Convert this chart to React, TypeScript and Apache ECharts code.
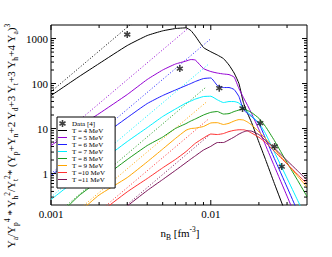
import React, { useEffect, useRef } from 'react';
import * as echarts from 'echarts';

// baryon density grid [fm^-3]
const density = [0.001, 0.0015, 0.002, 0.003, 0.004, 0.005, 0.006, 0.007, 0.0075, 0.008, 0.009, 0.01, 0.011, 0.012, 0.013, 0.014, 0.015, 0.016, 0.017, 0.018, 0.02, 0.022, 0.025, 0.03, 0.035, 0.04];

const temperatures = ['T = 4 MeV', 'T = 5 MeV', 'T = 6 MeV', 'T = 7 MeV', 'T = 8 MeV', 'T = 9 MeV', 'T =10 MeV', 'T =11 MeV'];
const colors = ['#000000', '#9400d3', '#1f1fff', '#00f0ff', '#1a9a1a', '#ffa500', '#ff3030', '#7a1458'];

const ratioT4 = [54, 143, 278, 699, 1166, 1483, 1668, 1729, 1506, 1136, 631, 509, 430, 359, 258, 171, 100, 37.8, 21.5, 13.6, 4.99, 2.05, 0.6, 0.111, 0.032, null];
const ratioT5 = [4.19, 11.1, 21.5, 57, 123, 200, 271, 316, 341, 333, 215, 185, 171, 163, 158, 139, 77.4, 48.9, 32.5, 21.5, 9.5, 4.28, 1.45, 0.315, 0.086, 0.028];
const ratioT6 = [0.9, 2.78, 6.15, 17.5, 35.9, 54.1, 71.7, 90.3, 100, 111, 129, 133, 90.3, 81.5, 81.5, 73.6, 51.4, 26.4, 21.5, 18.5, 12.9, 6.0, 2.15, 0.5, 0.143, 0.049];
const ratioT7 = [0.264, 0.815, 1.75, 5.14, 10.5, 18.5, 27.1, 36.9, 40.8, 45.2, 51.4, 52.2, 43.4, 37.8, 39.8, 39.8, 36.9, 28.6, 23.3, 19.0, 13.3, 7.74, 3.0, 0.787, 0.251, 0.095];
const ratioT8 = [0.08, 0.324, 0.699, 2.05, 4.19, 6.47, 10, 12.9, 14.7, 16.3, 20, 22.9, 23.9, 21.0, 21.5, 23.9, 25.8, 27.5, 25.1, 22.7, 16.9, 11.1, 5.41, 1.75, 0.699, 0.308];
const ratioT9 = [0.05, 0.14, 0.333, 0.815, 1.82, 3.5, 6.0, 9.17, 10, 10.2, 11.1, 13.3, 13.5, 12.3, 13.1, 14.7, 15.8, 15.5, 13.9, 12.0, 8.45, 6.0, 3.52, 1.65, 0.871, 0.501];
const ratioT10 = [null, 0.05, 0.13, 0.392, 0.774, 1.34, 2.05, 3.08, 3.84, 4.69, 6.15, 7.55, 7.36, 7.74, 8.58, 9.12, 9.4, 9.4, 8.85, 7.94, 6.41, 4.94, 3.13, 1.64, 0.95, 0.59];
const ratioT11 = [null, null, null, 0.19, 0.419, 0.736, 1.17, 1.75, 2.1, 2.47, 3.33, 4.02, 4.89, 4.89, 5.61, 6.47, 7.55, 8.4, 8.93, 8.75, 7.36, 5.41, 3.67, 1.94, 1.14, 0.717];
const ratioSeries = [ratioT4, ratioT5, ratioT6, ratioT7, ratioT8, ratioT9, ratioT10, ratioT11];

// dotted low-density limits: start and end points
const limitStart = [[0.001, 66], [0.001, 4.5], [0.001, 0.99], [0.001, 0.3], [0.001, 0.1], [0.0015, 0.16], [0.002, 0.144], [0.003, 0.205]];
const limitEnd = [[0.0033, 2372], [0.0071, 1611], [0.0099, 960], [0.0096, 263], [0.0094, 85], [0.0094, 39], [0.0096, 15.9], [0.0099, 7.4]];

// experimental data [4]
const dataDensity = [0.003, 0.0064, 0.0113, 0.0158, 0.0204, 0.0251, 0.0278];
const dataRatio = [1230, 215, 79, 28, 13.2, 4.0, 1.43];

const xDecades = [0.001, 0.01];
const xTickLabels = ['0.001', '0.01'];
const yDecades = [1, 10, 100, 1000];
const yTickLabels = ['1', '10', '100', '1000'];
const xMinor = [0.002, 0.003, 0.004, 0.005, 0.006, 0.007, 0.008, 0.009, 0.02, 0.03];
const yMinor = [0.3, 0.4, 0.5, 0.6, 0.7, 0.8, 0.9, 2, 3, 4, 5, 6, 7, 8, 9, 20, 30, 40, 50, 60, 70, 80, 90, 200, 300, 400, 500, 600, 700, 800, 900];

const FONT = "'Liberation Serif', 'Times New Roman', serif";

function asteriskPath(): string {
  const w = 2.2;
  const L = 10;
  let d = '';
  for (const a of [90, 30, -30]) {
    const r = (a * Math.PI) / 180;
    const cx = Math.cos(r), cy = Math.sin(r);
    const nx = -cy, ny = cx;
    const p = [
      [cx * L + nx * w, cy * L + ny * w],
      [cx * L - nx * w, cy * L - ny * w],
      [-cx * L - nx * w, -cy * L - ny * w],
      [-cx * L + nx * w, -cy * L + ny * w],
    ];
    d += `M${p[0][0].toFixed(2)},${p[0][1].toFixed(2)}L${p[1][0].toFixed(2)},${p[1][1].toFixed(2)}L${p[2][0].toFixed(2)},${p[2][1].toFixed(2)}L${p[3][0].toFixed(2)},${p[3][1].toFixed(2)}Z`;
  }
  return 'path://' + d;
}

function decadeLabel(v: number, decades: number[], labels: string[]): string {
  const i = decades.findIndex((d) => Math.abs(Math.log10(v) - Math.log10(d)) < 1e-6);
  return i >= 0 ? labels[i] : '';
}

export default function App() {
  const ref = useRef<HTMLDivElement>(null);
  useEffect(() => {
    if (!ref.current) return;
    const chart = echarts.init(ref.current, undefined, { renderer: 'svg' });

    const lineSeries: any[] = ratioSeries.map((ys, i) => ({
      type: 'line',
      name: temperatures[i],
      data: density.map((x, j) => [x, ys[j]]).filter((p) => p[1] != null),
      showSymbol: false,
      symbol: 'none',
      smooth: 0.15,
      clip: true,
      z: 3,
      lineStyle: { color: colors[i], width: 1 },
      itemStyle: { color: colors[i] },
    }));
    const limitSeries: any[] = limitStart.map((s, i) => ({
      type: 'line',
      name: temperatures[i] + ' limit',
      data: [s, limitEnd[i]],
      showSymbol: false,
      symbol: 'none',
      clip: true,
      z: 2,
      lineStyle: { color: colors[i], width: 1, type: [1, 2] },
      itemStyle: { color: colors[i] },
    }));

    const tickStyle = { stroke: '#000', lineWidth: 1 };
    const xTickSeries = {
      type: 'custom',
      silent: true,
      clip: false,
      z: 5,
      data: [...xDecades.map((v) => [v, 1, 1]), ...xMinor.map((v) => [v, 1, 0])],
      encode: { x: 0, y: 1 },
      renderItem: (params: any, api: any) => {
        const cs = params.coordSys;
        const px = api.coord([api.value(0), api.value(1)])[0];
        const len = api.value(2) ? 5 : 3;
        const b = cs.y + cs.height;
        return {
          type: 'group',
          children: [
            { type: 'line', shape: { x1: px, y1: b, x2: px, y2: b - len }, style: tickStyle },
            { type: 'line', shape: { x1: px, y1: cs.y, x2: px, y2: cs.y + len }, style: tickStyle },
          ],
        };
      },
    };
    const yTickSeries = {
      type: 'custom',
      silent: true,
      clip: false,
      z: 5,
      data: [...yDecades.map((v) => [0.01, v, 1]), ...yMinor.map((v) => [0.01, v, 0])],
      encode: { x: 0, y: 1 },
      renderItem: (params: any, api: any) => {
        const cs = params.coordSys;
        const py = api.coord([api.value(0), api.value(1)])[1];
        const len = api.value(2) ? 5 : 3;
        const r = cs.x + cs.width;
        return {
          type: 'group',
          children: [
            { type: 'line', shape: { x1: cs.x, y1: py, x2: cs.x + len, y2: py }, style: tickStyle },
            { type: 'line', shape: { x1: r, y1: py, x2: r - len, y2: py }, style: tickStyle },
          ],
        };
      },
    };

    const rich = {
      m: { fontSize: 11, fontFamily: FONT, color: '#000', lineHeight: 16 },
      s: { fontSize: 7.5, fontFamily: FONT, color: '#000', lineHeight: 8, verticalAlign: 'bottom' },
      u: { fontSize: 7.5, fontFamily: FONT, color: '#000', lineHeight: 8, verticalAlign: 'top' },
    };

    const lineIcon = 'path://M0,0L18,0L18,2L0,2Z';

    chart.setOption({
      animation: false,
      backgroundColor: '#fff',
      grid: { left: 51, right: 25, top: 25, bottom: 52, show: true, borderColor: '#000', borderWidth: 1, backgroundColor: 'transparent' },
      xAxis: {
        type: 'log',
        logBase: 10,
        min: 0.001,
        max: 0.04,
        axisLine: { show: false },
        axisTick: { show: false },
        splitLine: { show: false },
        axisLabel: {
          formatter: (v: number) => decadeLabel(v, xDecades, xTickLabels),
          fontSize: 11,
          fontFamily: FONT,
          color: '#000',
          margin: 3,
          showMinLabel: true,
          showMaxLabel: true,
        },
      },
      yAxis: {
        type: 'log',
        logBase: 10,
        min: 0.2,
        max: 2000,
        axisLine: { show: false },
        axisTick: { show: false },
        splitLine: { show: false },
        axisLabel: {
          formatter: (v: number) => decadeLabel(v, yDecades, yTickLabels),
          fontSize: 11,
          fontFamily: FONT,
          color: '#000',
          margin: 3,
          showMinLabel: true,
          showMaxLabel: true,
        },
      },
      legend: {
        left: 57,
        top: 117,
        orient: 'vertical',
        data: [{ name: 'Data [4]' }, ...temperatures.map((n) => ({ name: n, icon: lineIcon }))],
        backgroundColor: '#fff',
        borderColor: '#000',
        borderWidth: 1,
        borderRadius: 0,
        padding: [3, 10, 5, 1],
        itemWidth: 9,
        itemHeight: 7,
        itemGap: 0,
        symbolKeepAspect: true,
        selectedMode: false,
        textStyle: { fontSize: 7, fontFamily: FONT, color: '#000', lineHeight: 7 },
      },
      graphic: [
        {
          type: 'text',
          x: 11,
          y: 136,
          rotation: Math.PI / 2,
          style: {
            text: '{m|Y}{s|a}{m|/Y}{s|p}{u|4}{m| * Y}{s|h}{u|2}{m|/Y}{s|t}{u|2}{m|* (Y}{s|p}{m|+Y}{s|n}{m|+2 Y}{s|d}{m|+3 Y}{s|t}{m|+3 Y}{s|h}{m|+4 Y}{s|a}{m|)}{u|3}',
            rich,
            align: 'center',
            verticalAlign: 'middle',
          },
        },
        {
          type: 'text',
          x: 180,
          y: 233,
          style: {
            text: '{m|n}{s|B}{m| [fm}{u|-3}{m|]}',
            rich,
            align: 'center',
            verticalAlign: 'middle',
          },
        },
      ],
      series: [
        ...limitSeries,
        ...lineSeries,
        {
          type: 'scatter',
          name: 'Data [4]',
          data: dataDensity.map((x, i) => [x, dataRatio[i]]),
          symbol: asteriskPath(),
          symbolSize: 7,
          symbolKeepAspect: true,
          itemStyle: { color: '#111' },
          z: 6,
        },
        xTickSeries,
        yTickSeries,
      ],
    });
    return () => chart.dispose();
  }, []);
  return <div ref={ref} style={{ position: 'fixed', left: 0, top: 0, width: 332, height: 257 }} />;
}
